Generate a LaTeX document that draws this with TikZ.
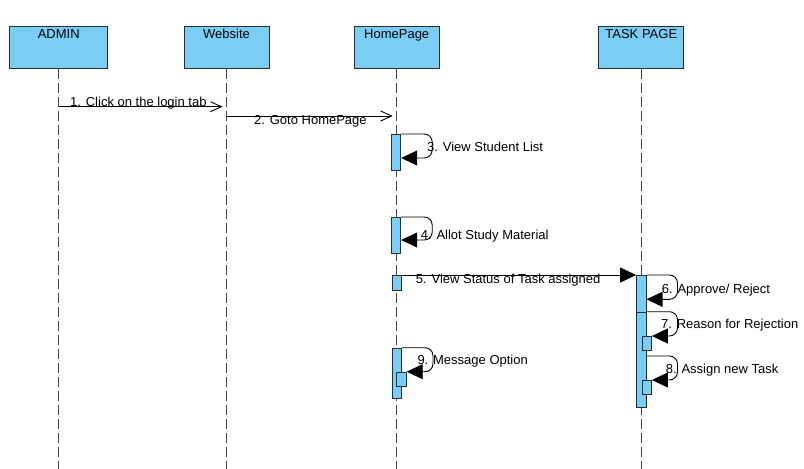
\documentclass[tikz,border=0pt]{standalone}
\usepackage{fontspec}
\setmainfont{Liberation Sans}
\usetikzlibrary{arrows.meta}
\definecolor{boxblue}{RGB}{122,206,245}
\definecolor{edgegray}{RGB}{45,45,45}
\definecolor{linegray}{RGB}{70,70,70}
\begin{document}
\begin{tikzpicture}[x=1pt,y=-1pt,
    font=\fontsize{13}{15}\selectfont,
    lifebox/.style={draw=edgegray,fill=boxblue,line width=1pt,minimum width=85pt,
      text height=10pt,text depth=28pt,inner ysep=2pt,anchor=north},
    actbox/.style={draw=edgegray,fill=boxblue,line width=0.9pt,minimum width=9.5pt,
      inner sep=0pt,anchor=north},
    life/.style={linegray,line width=1.2pt,dash pattern=on 10pt off 4pt},
    msg/.style={-{Straight Barb[length=11pt,width=10pt]},line width=0.9pt,shorten >=4pt},
    callmsg/.style={-{Triangle[length=16pt,width=15pt]},line width=0.9pt},
    selfcall/.style={-{Triangle[length=16pt,width=15pt]},line width=0.9pt,rounded corners=8pt},
    lbl/.style={anchor=base west,inner sep=0pt}]
  \useasboundingbox (0,0) rectangle (804,469);
  % lifeline heads
  \node[lifebox,minimum width=98pt] (admin) at (58.7,26) {ADMIN};
  \node[lifebox] (web) at (226.5,26) {Website};
  \node[lifebox] (home) at (396.7,26) {HomePage};
  \node[lifebox] (task) at (641.3,26) {TASK PAGE};
  \coordinate (admin end) at (58.7,469);
  \coordinate (web end) at (226.5,469);
  \coordinate (home end) at (396.7,469);
  \coordinate (task end) at (641.3,469);
  \begin{scope}[life]
    \draw (admin.south) -- (admin end);
    \draw (web.south) -- (web end);
    \draw (home.south) -- (home end);
    \draw (task.south) -- (task end);
  \end{scope}
  % activations
  \node[actbox,minimum height=36pt] (a3) at (396,134) {};
  \node[actbox,minimum height=36pt] (a4) at (396,217) {};
  \node[actbox,minimum height=14.7pt] (a5) at (396.8,275) {};
  \node[actbox,minimum height=36.7pt] (a6) at (641.3,275) {};
  \node[actbox,minimum height=95pt] (a7) at (641.3,311.7) {};
  \node[actbox,minimum height=14pt] (n7) at (646.7,336) {};
  \node[actbox,minimum height=14.3pt] (n8) at (646.7,380) {};
  \node[actbox,minimum height=50pt] (a9) at (396.8,347.7) {};
  \node[actbox,minimum height=14.3pt] (n9) at (401.5,371.7) {};
  % messages
  \draw[msg] (admin.south |- 0,106.7) -- (web.south |- 0,106.7);
  \draw[msg] (web.south |- 0,116) -- (home.south |- 0,116);
  \draw[selfcall] (a3.north east) -- ++(31,0) -- ++(0,24) -- ++(-31,0);
  \draw[selfcall] (a4.north east) -- ++(31,0) -- ++(0,23) -- ++(-31,0);
  \draw[callmsg] (a5.north east) -- (a6.north west);
  \draw[selfcall] (a6.north east) -- ++(31,0) -- ++(0,24.3) -- ++(-31,0);
  \draw[selfcall] (a7.north east) -- ++(31,0) |- (n7.north east);
  \draw[selfcall] (a7.east |- 0,356) -- ++(31,0) |- (n8.north east);
  \draw[selfcall] (a9.north east) -- ++(31,0) |- (n9.north east);
  % labels
  \node[lbl] (l1) at (70,106) {1. Click on the login tab};
  \node[lbl] (l2) at (254,124) {2. Goto HomePage};
  \node[lbl] (l3) at (427,151) {3. View Student List};
  \node[lbl] (l4) at (420.7,239) {4. Allot Study Material};
  \node[lbl] (l5) at (415.7,283) {5. View Status of Task assigned};
  \node[lbl] (l6) at (661.7,293) {6. Approve/ Reject};
  \node[lbl] (l7) at (661,328.5) {7. Reason for Rejection};
  \node[lbl] (l8) at (665.7,373.5) {8. Assign new Task};
  \node[lbl] (l9) at (417.3,364) {9. Message Option};
\end{tikzpicture}
\end{document}
